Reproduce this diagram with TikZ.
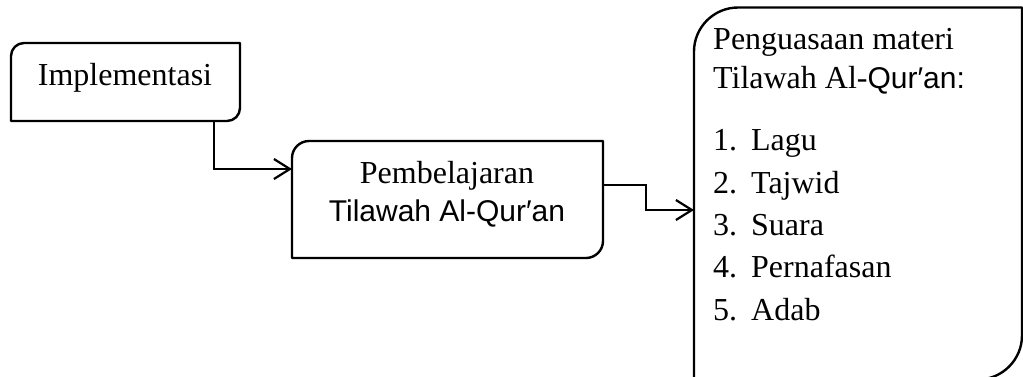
\documentclass[tikz,border=0pt]{standalone}
\usepackage{fontspec}
\setmainfont{Liberation Serif}
\newfontfamily\qsans{Liberation Sans}
\usetikzlibrary{arrows.meta}
\newcommand{\rcbox}[2]{%
  \draw[boxline] ([yshift=-#2]#1.north west)
    .. controls ([yshift=-0.45*#2]#1.north west) and ([xshift=0.45*#2]#1.north west) .. ([xshift=#2]#1.north west)
    -- (#1.north east)
    -- ([yshift=#2]#1.south east)
    .. controls ([yshift=0.45*#2]#1.south east) and ([xshift=-0.45*#2]#1.south east) .. ([xshift=-#2]#1.south east)
    -- (#1.south west) -- cycle;}
\tikzset{
  boxline/.style={line width=2.4pt, line join=round},
  area/.style={draw=none, inner sep=0pt, outer sep=0pt},
  conn/.style={line width=2.2pt, -{Straight Barb[length=16pt,width=20pt,line width=2.2pt]}},
  txt/.style={inner sep=0pt, font=\fontsize{32}{39}\selectfont},
}
\begin{document}
\begin{tikzpicture}[x=1pt,y=-1pt]
\useasboundingbox (0,0) rectangle (1023,376);
% boxes
\node[area, minimum width=229pt, minimum height=78pt] (impl) at (125.5,82) {};
\node[area, minimum width=311pt, minimum height=117pt] (pemb) at (447.5,199.5) {};
\node[area, minimum width=328pt, minimum height=372pt] (peng) at (858,193.5) {};
\rcbox{impl}{13pt}
\rcbox{pemb}{17pt}
\rcbox{peng}{44pt}
% texts
\node[txt, anchor=base] (t1) at (125,85) {Implementasi};
\node[txt, anchor=base] (t2a) at (447,183) {Pembelajaran};
\node[txt, anchor=base] (t2b) at (447,221) {\fontsize{30}{36}\selectfont\qsans Tilawah Al-Qur′an};
\node[txt, anchor=base west] (t3a) at (713,49) {Penguasaan materi};
\node[txt, anchor=base west] (t3b) at (713,88) {Tilawah Al-{\fontsize{30}{36}\selectfont\qsans Qur′an:}};
\node[txt, anchor=base west] (l1) at (713,150) {\makebox[38pt][l]{1.}Lagu};
\node[txt, anchor=base west] (l2) at (713,193) {\makebox[38pt][l]{2.}Tajwid};
\node[txt, anchor=base west] (l3) at (713,235) {\makebox[38pt][l]{3.}Suara};
\node[txt, anchor=base west] (l4) at (713,277) {\makebox[38pt][l]{4.}Pernafasan};
\node[txt, anchor=base west] (l5) at (713,320) {\makebox[38pt][l]{5.}Adab};
% connectors
\draw[conn] ([xshift=203pt]impl.south west) |- ([yshift=30.5pt]pemb.west);
\draw[conn] ([yshift=14.5pt]pemb.east) -- ++(43pt,0) |- ([yshift=-16.5pt]peng.west);
\end{tikzpicture}
\end{document}
